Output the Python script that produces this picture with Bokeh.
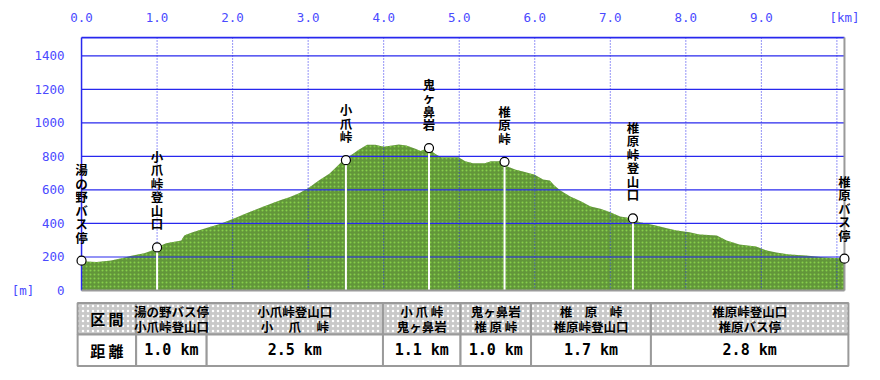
import numpy as np
from bokeh.plotting import figure
from bokeh.models import FixedTicker, PrintfTickFormatter
from bokeh.layouts import column
from bokeh.embed import file_html
from bokeh.resources import INLINE
from bokeh.core.properties import value

# ---------------- data ----------------
PROFILE_KM = [0.00, 0.20, 0.39, 0.53, 0.66, 0.83, 0.97, 1.05, 1.12, 1.32,
              1.36, 1.45, 1.62, 1.84, 2.01, 2.20, 2.41, 2.63, 2.75, 2.88,
              3.01, 3.14, 3.28, 3.37, 3.47, 3.58, 3.67, 3.78, 3.89, 4.00,
              4.11, 4.20, 4.30, 4.42, 4.49, 4.58, 4.68, 4.76, 4.99, 5.08,
              5.18, 5.34, 5.42, 5.54, 5.64, 5.75, 5.87, 6.00, 6.11, 6.20,
              6.26, 6.34, 6.47, 6.61, 6.74, 6.87, 7.00, 7.13, 7.26, 7.39,
              7.59, 7.75, 7.88, 8.05, 8.18, 8.41, 8.54, 8.71, 8.93, 9.07,
              9.20, 9.37, 9.59, 9.82, 10.10]
PROFILE_M = [175, 170, 179, 193, 207, 223, 245, 269, 282, 299,
             328, 344, 368, 398, 428, 464, 501, 538, 557, 581,
             613, 657, 697, 736, 780, 812, 840, 870, 870, 858,
             866, 872, 866, 846, 832, 850, 816, 796, 796, 772,
             760, 760, 772, 772, 740, 720, 707, 691, 663, 657,
             627, 597, 561, 533, 501, 488, 467, 442, 432, 408,
             390, 372, 358, 348, 334, 328, 299, 275, 263, 239,
             227, 215, 209, 199, 191]

WAYPOINT_NAMES = ["湯の野バス停", "小爪峠登山口", "小爪峠", "鬼ヶ鼻岩",
                  "椎原峠", "椎原峠登山口", "椎原バス停"]
WAYPOINT_M = [178, 257, 778, 850, 768, 430, 190]
SECTION_KM = [1.0, 2.5, 1.1, 1.0, 1.7, 2.8]
SECTION_HEADERS = ["湯の野バス停\n小爪峠登山口",
                   "小爪峠登山口\n小　 爪 　峠",
                   "小 爪 峠\n鬼ヶ鼻岩",
                   "鬼ヶ鼻岩\n椎 原 峠",
                   "椎　原　峠\n椎原峠登山口",
                   "椎原峠登山口\n椎原バス停"]
ROW_TITLES = ["区 間", "距 離"]
X_TICKS = [0, 1, 2, 3, 4, 5, 6, 7, 8, 9]
X_GRID = [1, 2, 3, 4, 5, 6, 7, 8, 9, 10]
Y_TICKS = [0, 200, 400, 600, 800, 1000, 1200, 1400]
Y_TOP = 1510

# ---------------- derived ----------------
waypoint_km = [0.0] + [round(v, 2) for v in np.cumsum(SECTION_KM)]
total = waypoint_km[-1]

BLUE = "#2828ee"
LABEL_BLUE = "#4a4aff"
GRAY = "#9a9a9a"
JP = value("Noto Sans CJK JP")
MONO = value("DejaVu Sans Mono")
NB = "\u00a0"

X_PAD = 0.08
p = figure(width=880, height=298, x_range=(-X_PAD, total + X_PAD),
           y_range=(-12, 1516), x_axis_location="above",
           toolbar_location=None, output_backend="svg",
           min_border_left=75, min_border_right=26,
           min_border_top=36, min_border_bottom=6)
p.outline_line_color = None
p.grid.visible = False

# axes
p.xaxis.ticker = FixedTicker(ticks=X_TICKS + [total])
p.xaxis.formatter = PrintfTickFormatter(format="%.1f")
p.xaxis.major_label_overrides = {total: "[km]"}
p.yaxis.ticker = FixedTicker(ticks=Y_TICKS)
p.yaxis.major_label_overrides = {0: "[m]" + NB * 3 + "0"}
for ax in (p.xaxis, p.yaxis):
    ax.axis_line_color = None
    ax.major_tick_line_color = None
    ax.minor_tick_line_color = None
    ax.major_label_text_color = LABEL_BLUE
    ax.major_label_text_font = "DejaVu Sans Mono"
    ax.major_label_text_font_size = "12.5px"
p.xaxis.major_label_standoff = 6
p.yaxis.major_label_standoff = 5

# profile fill
area = p.varea(x=PROFILE_KM, y1=0, y2=PROFILE_M, fill_color="#62963a",
               hatch_pattern=".", hatch_color="#86d04a", hatch_scale=4,
               hatch_weight=1)
area.level = "image"

# grid
p.segment(x0=0, x1=total, y0=Y_TICKS[1:], y1=Y_TICKS[1:],
          line_color=BLUE, line_width=1.2)
p.segment(x0=X_GRID, x1=X_GRID, y0=0, y1=Y_TOP,
          line_color=BLUE, line_width=1, line_dash="1 2")

# white drop lines
p.segment(x0=waypoint_km[1:-1], x1=waypoint_km[1:-1], y0=0,
          y1=WAYPOINT_M[1:-1], line_color="white", line_width=2)

# borders
p.segment(x0=0, x1=total, y0=Y_TOP, y1=Y_TOP, line_color=BLUE, line_width=2)
p.segment(x0=0, x1=0, y0=0, y1=Y_TOP, line_color=BLUE, line_width=1.5)
p.segment(x0=total, x1=total, y0=0, y1=Y_TOP, line_color=GRAY, line_width=2)
p.segment(x0=0, x1=total, y0=0, y1=0, line_color=GRAY, line_width=2)

# markers
p.scatter(x=waypoint_km, y=WAYPOINT_M, size=9, fill_color="white",
          line_color="black", line_width=1.2)

# vertical labels
p.text(x=waypoint_km, y=WAYPOINT_M, text=["\n".join(n) for n in WAYPOINT_NAMES],
       text_align="center", text_baseline="bottom", y_offset=-14,
       text_font=JP, text_font_style="bold", text_font_size="12.5px",
       text_line_height=0.71, text_color="black")

# ---------------- table ----------------
T_LEFT = -0.83
edges = [T_LEFT] + waypoint_km
lefts = edges[:-1]
rights = edges[1:]
centers = [(a + b) / 2 for a, b in zip(lefts, rights)]

t = figure(width=880, height=82, x_range=(T_LEFT - 0.03, total + 0.03),
           y_range=(-0.05, 2.05), x_axis_type=None, y_axis_type=None,
           toolbar_location=None, output_backend="svg",
           min_border_left=16, min_border_right=30,
           min_border_top=3, min_border_bottom=13)
t.outline_line_color = None
t.grid.visible = False

t.quad(left=lefts, right=rights, bottom=1, top=2, fill_color="#c9c9c9",
       hatch_pattern=".", hatch_color="white", hatch_scale=5, hatch_weight=1,
       line_color=GRAY, line_width=2)
t.quad(left=lefts, right=rights, bottom=0, top=1, fill_color="white",
       line_color=GRAY, line_width=2)

t.text(x=centers[0], y=[1.5, 0.5], text=ROW_TITLES, text_align="center",
       text_baseline="middle", text_font=JP, text_font_style="bold",
       text_font_size="15px", text_color="black")
t.text(x=centers[1:], y=1.5, text=SECTION_HEADERS, text_align="center",
       text_baseline="middle", text_font=JP, text_font_style="bold",
       text_font_size="12.5px", text_line_height=0.77, text_color="black")
t.text(x=centers[1:], y=0.5, text=[f"{v:.1f} km" for v in SECTION_KM],
       text_align="center", text_baseline="middle", text_font=MONO,
       text_font_style="bold", text_font_size="15px", text_color="black")

layout = column(p, t, spacing=0)
open("out.html", "w").write(file_html(layout, INLINE))
